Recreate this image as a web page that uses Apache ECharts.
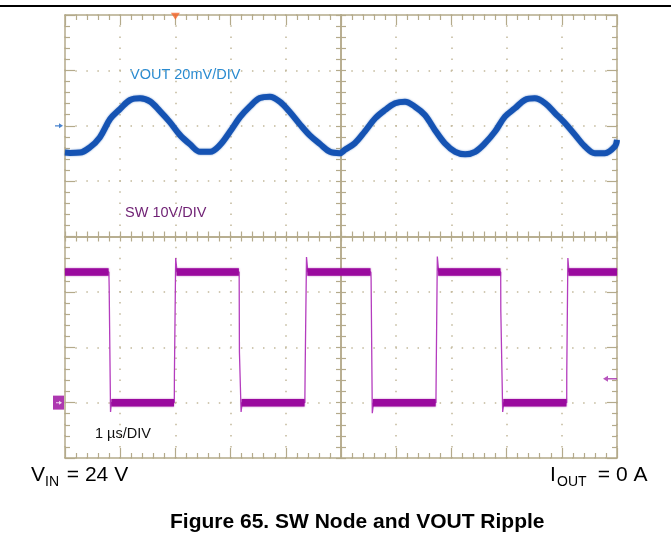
<!DOCTYPE html>
<html><head><meta charset="utf-8">
<script src="https://cdn.jsdelivr.net/npm/echarts@6/dist/echarts.min.js"></script>
<style>html,body{margin:0;padding:0;background:#fff}#c{width:671px;height:550px}</style>
</head><body><div id="c"></div>
<script>
// ---- time base (µs) and channel scales ----
const timeRange = [-2, 8];      // 10 divisions, 1 µs/DIV, trigger at t = 0
const timeDiv = 1;
const swRange = [-10, 70];      // 10 V/DIV, ground marker at 0 V
const swDiv = 10;
const voutRange = [-120, 40];   // 20 mV/DIV, AC ripple reference at 0 mV
const voutDiv = 20;

// ---- VOUT ripple (mV) ----
const voutT = [-2.00,-1.91,-1.73,-1.55,-1.37,-1.18,-1.00,-0.82,-0.64,-0.46,-0.28,-0.10,0.08,0.26,0.45,0.63,0.81,0.99,1.17,1.35,1.53,1.71,1.89,2.08,2.26,2.44,2.62,2.80,2.98,3.07,3.25,3.43,3.62,3.80,3.98,4.16,4.34,4.52,4.70,4.88,5.07,5.25,5.43,5.61,5.79,5.97,6.15,6.33,6.51,6.70,6.88,7.06,7.24,7.42,7.60,7.78,7.96,8.00];
const voutMv = [-9.7,-9.8,-9.7,-7.8,-4.2,2.5,6.1,9.3,9.9,8.8,5.3,1.3,-3.3,-6.6,-9.4,-9.4,-6.9,-2.1,3.1,7.0,10.0,10.5,8.7,4.8,0.4,-3.6,-6.6,-9.4,-9.9,-8.7,-6.3,-2.1,2.7,5.7,8.1,8.7,6.9,3.9,-1.5,-6.3,-9.4,-10.3,-9.4,-6.3,-2.1,3.3,6.3,9.3,9.9,8.1,4.5,0.9,-3.3,-7.5,-9.9,-9.9,-7.5,-5.1];

// ---- SW node (V) : full trace including edges ----
const swT = [-2,-1.205,-1.20,-1.175,-1.16,-0.02,-0.018,0.0,0.005,0.03,1.155,1.16,1.19,1.21,2.345,2.35,2.375,2.40,3.54,3.545,3.567,3.59,4.72,4.725,4.745,4.77,5.893,5.895,5.929,5.95,7.089,7.09,7.11,7.13,8];
const swV = [23.6,23.6,21.0,-1.7,0,0,4.7,5.0,26.1,23.6,23.6,9.1,-1.7,0,0,5.4,26.3,23.6,23.6,22.5,-1.9,0,0,5.9,26.4,23.6,23.6,16.7,-1.7,0,0,5.3,26.1,23.6,23.6];

// ---- SW node flat levels (noisy thick band); null = gap ----
const swBandT = [-2,-1.21,null,-1.16,-0.025,null,0.02,1.15,null,1.20,2.34,null,2.39,3.535,null,3.58,4.715,null,4.76,5.89,null,5.94,7.085,null,7.12,8];
const swBandV = [23.6,23.6,null,0,0,null,23.6,23.6,null,0,0,null,23.6,23.6,null,0,0,null,23.6,23.6,null,0,0,null,23.6,23.6];

// ---- markers ----
const triggerT = 0;
const triggerLevelV = 4.3;
const voutRefMv = 0;
const swGroundV = 0;

// ---- texts ----
const voutLabel = 'VOUT 20mV/DIV';
const swLabel = 'SW 10V/DIV';
const timeLabel = '1 µs/DIV';
const vinText = ['V', 'IN', ' = 24 V'];
const ioutText = ['I', 'OUT', ' = 0 A'];
const figTitle = 'Figure 65. SW Node and VOUT Ripple';

const FONT = '"Liberation Sans", Arial, Helvetica, sans-serif';
const TAN = '#b4aa8b';
const DOT = '#c2b89a';

const zip = (a, b) => a.map((v, i) => (v === null ? [null, null] : [v, b[i]]));

function axisBase(range, step, extra) {
  return Object.assign({
    type: 'value', min: range[0], max: range[1], interval: step,
    axisLabel: { show: false },
    axisLine: { show: true, onZero: false, lineStyle: { color: TAN, width: 1.5 } },
    axisTick: { show: true, inside: true, length: 10, lineStyle: { color: TAN, width: 1.2 } },
    minorTick: { show: true, splitNumber: 5, length: 5, lineStyle: { color: TAN, width: 1.2 } },
    splitLine: { show: false }
  }, extra);
}

const gridH = 443, gridW = 552;

const option = {
  animation: false,
  backgroundColor: '#ffffff',
  grid: { left: 65, top: 15, width: gridW, height: gridH, containLabel: false },
  xAxis: [
    axisBase(timeRange, timeDiv, { position: 'bottom',
      splitLine: { show: true, lineStyle: { color: DOT, width: 1.5, type: [1.5, 9.57], dashOffset: 0.75 } } }),
    axisBase(timeRange, timeDiv, { position: 'top' }),
    axisBase(timeRange, timeDiv, { position: 'bottom', offset: -gridH / 2,
      axisTick: { show: true, inside: false, length: 5, lineStyle: { color: TAN, width: 1.2 } } }),
    axisBase(timeRange, timeDiv, { position: 'bottom', offset: -gridH / 2,
      axisTick: { show: true, inside: true, length: 5, lineStyle: { color: TAN, width: 1.2 } } })
  ],
  yAxis: [
    axisBase(swRange, swDiv, { position: 'left',
      splitLine: { show: true, lineStyle: { color: DOT, width: 1.5, type: [1.5, 9.54], dashOffset: 0.75 } } }),
    axisBase(voutRange, voutDiv, { position: 'right' }),
    axisBase(swRange, swDiv, { position: 'left', offset: -gridW / 2,
      axisTick: { show: true, inside: false, length: 5, lineStyle: { color: TAN, width: 1.2 } } }),
    axisBase(swRange, swDiv, { position: 'left', offset: -gridW / 2,
      axisTick: { show: true, inside: true, length: 5, lineStyle: { color: TAN, width: 1.2 } } })
  ],
  series: [
    { name: 'VOUT', type: 'line', xAxisIndex: 0, yAxisIndex: 1, data: zip(voutT, voutMv),
      smooth: 0.35, showSymbol: false, silent: true,
      lineStyle: { color: '#1553b3', width: 6, shadowColor: 'rgba(21,83,179,0.6)', shadowBlur: 2 } },
    { name: 'SW edges', type: 'line', xAxisIndex: 0, yAxisIndex: 0, data: zip(swT, swV),
      showSymbol: false, silent: true,
      lineStyle: { color: '#b43cbe', width: 1.3 } },
    { name: 'SW band', type: 'line', xAxisIndex: 0, yAxisIndex: 0, data: zip(swBandT, swBandV),
      showSymbol: false, silent: true, connectNulls: false,
      lineStyle: { color: '#9a0a9e', width: 7.5, shadowColor: 'rgba(154,10,158,0.6)', shadowBlur: 2 } },
    // trigger position marker (top)
    { type: 'scatter', xAxisIndex: 0, yAxisIndex: 0, clip: false, silent: true, z: 5,
      data: [[triggerT, swRange[1]]], symbol: 'triangle', symbolRotate: 180,
      symbolSize: [9, 7], symbolOffset: [0, 1.3], itemStyle: { color: '#f5652a' } },
    // VOUT reference arrow (left)
    { type: 'scatter', xAxisIndex: 0, yAxisIndex: 1, clip: false, silent: true, z: 5,
      data: [[timeRange[0], voutRefMv]],
      symbol: 'path://M0,4 L5,4 L5,1 L10,5 L5,9 L5,6 L0,6 Z', symbolSize: [8, 5], symbolOffset: [-6, 0],
      itemStyle: { color: '#1c64c0' } },
    // SW ground marker box (left)
    { type: 'scatter', xAxisIndex: 0, yAxisIndex: 0, clip: false, silent: true, z: 5,
      data: [[timeRange[0], swGroundV]], symbol: 'rect', symbolSize: [11, 14], symbolOffset: [-6.5, 0],
      itemStyle: { color: '#98069c' } },
    { type: 'scatter', xAxisIndex: 0, yAxisIndex: 0, clip: false, silent: true, z: 6,
      data: [[timeRange[0], swGroundV]],
      symbol: 'path://M0,4 L5,4 L5,1 L10,5 L5,9 L5,6 L0,6 Z', symbolSize: [6, 4], symbolOffset: [-6, 0],
      itemStyle: { color: '#ffffff' } },
    // trigger level arrow (right)
    { type: 'scatter', xAxisIndex: 0, yAxisIndex: 0, clip: false, silent: true, z: 5,
      data: [[timeRange[1], triggerLevelV]],
      symbol: 'path://M0,5 L5,1 L5,4 L14,4 L14,6 L5,6 L5,9 Z', symbolSize: [14, 6], symbolOffset: [-7, 0],
      itemStyle: { color: '#a52aad' } }
  ],
  graphic: [
    { type: 'line', shape: { x1: 0, y1: 6, x2: 671, y2: 6 }, style: { stroke: '#000', lineWidth: 2 }, silent: true },
    { type: 'text', x: 130, y: 74.5, style: { text: voutLabel, fill: '#2a8bd0', font: '14.5px ' + FONT, align: 'left', verticalAlign: 'middle' } },
    { type: 'text', x: 125, y: 213, style: { text: swLabel, fill: '#6e1f73', font: '14.5px ' + FONT, align: 'left', verticalAlign: 'middle' } },
    { type: 'text', x: 95, y: 434, style: { text: timeLabel, fill: '#111', font: '14.5px ' + FONT, align: 'left', verticalAlign: 'middle' } },
    { type: 'text', x: 31, y: 475.5, style: { text: vinText[0], fill: '#000', font: '21px ' + FONT, align: 'left', verticalAlign: 'middle' } },
    { type: 'text', x: 45, y: 482, style: { text: vinText[1], fill: '#000', font: '14px ' + FONT, align: 'left', verticalAlign: 'middle' } },
    { type: 'text', x: 61, y: 475.5, style: { text: vinText[2], fill: '#000', font: '21px ' + FONT, align: 'left', verticalAlign: 'middle' } },
    { type: 'text', x: 550, y: 475.5, style: { text: ioutText[0], fill: '#000', font: '21px ' + FONT, align: 'left', verticalAlign: 'middle' } },
    { type: 'text', x: 557, y: 482, style: { text: ioutText[1], fill: '#000', font: '14px ' + FONT, align: 'left', verticalAlign: 'middle' } },
    { type: 'text', x: 592, y: 475.5, style: { text: ioutText[2], fill: '#000', font: '21px ' + FONT, align: 'left', verticalAlign: 'middle' } },
    { type: 'text', x: 170, y: 522.5, style: { text: figTitle, fill: '#000', font: 'bold 21px ' + FONT, align: 'left', verticalAlign: 'middle' } }
  ]
};

const chart = echarts.init(document.getElementById('c'), null, { renderer: 'canvas', width: 671, height: 550 });
chart.setOption(option);
</script>
</body></html>
